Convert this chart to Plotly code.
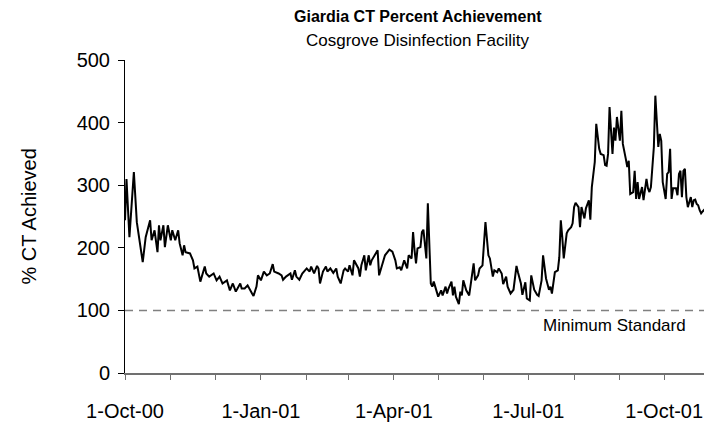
import pandas as pd
import plotly.graph_objects as go

start_date = "2000-10-01"
day_offsets = [
    0, 1, 3, 6, 8, 9, 12, 14, 17, 18, 20, 22, 23, 24, 26, 27, 29, 31, 32, 34,
    36, 37, 39, 40, 41, 44, 46, 47, 49, 51, 54, 55, 57, 60, 62, 64, 66, 69, 71, 73,
    75, 78, 79, 81, 83, 86, 87, 89, 90, 92, 94, 96, 98, 100, 101, 104, 106, 107, 109, 112,
    113, 115, 116, 118, 120, 123, 125, 126, 128, 130, 131, 132, 134, 136, 137, 139, 141, 143, 144, 146,
    148, 149, 151, 152, 154, 155, 156, 158, 159, 160, 162, 163, 165, 166, 167, 169, 171, 172, 174, 176,
    177, 179, 181, 183, 184, 186, 187, 189, 191, 192, 194, 195, 196, 197, 198, 200, 201, 202, 204, 205,
    207, 208, 209, 211, 212, 214, 215, 217, 218, 219, 221, 222, 223, 224, 226, 227, 228, 229, 231, 233,
    235, 236, 237, 239, 240, 242, 244, 246, 247, 249, 250, 252, 253, 255, 256, 258, 259, 261, 263, 265,
    266, 268, 269, 271, 272, 274, 275, 277, 279, 280, 282, 283, 285, 287, 288, 289, 291, 293, 294, 295,
    296, 297, 299, 300, 302, 303, 304, 305, 307, 308, 309, 311, 312, 314, 315, 316, 318, 319, 321, 322,
    324, 325, 326, 327, 328, 330, 331, 332, 333, 335, 336, 337, 339, 340, 341, 342, 344, 345, 346, 347,
    348, 350, 351, 352, 353, 354, 355, 356, 357, 358, 359, 361, 362, 363, 364, 366, 367, 368, 369, 370,
    371, 373, 374, 375, 376, 377, 378, 379, 380, 381, 383, 384, 385, 386, 387, 388, 389, 390, 391, 392,
    393,
]
ct_percent = [
    244, 310, 217, 321, 241, 223, 177, 217, 244, 212, 228, 193, 236, 212, 236, 201, 236, 212, 228, 212,
    228, 207, 188, 204, 193, 191, 180, 167, 170, 146, 170, 159, 154, 159, 148, 154, 143, 148, 132, 143,
    130, 143, 135, 135, 140, 127, 123, 138, 156, 148, 162, 156, 159, 174, 162, 159, 156, 149, 154, 159,
    149, 164, 154, 149, 159, 167, 162, 170, 159, 171, 167, 143, 162, 170, 162, 167, 160, 167, 154, 143,
    164, 167, 162, 172, 156, 180, 175, 167, 154, 172, 188, 164, 188, 172, 180, 188, 196, 156, 172, 188,
    191, 197, 194, 180, 167, 169, 164, 180, 167, 188, 183, 225, 196, 175, 199, 201, 225, 229, 183, 271,
    143, 138, 146, 127, 122, 132, 124, 138, 127, 135, 146, 124, 138, 122, 110, 130, 124, 148, 132, 124,
    156, 175, 148, 156, 167, 172, 241, 188, 183, 154, 164, 161, 167, 159, 142, 154, 138, 127, 133, 171,
    161, 143, 125, 145, 119, 116, 156, 133, 125, 123, 148, 188, 151, 133, 138, 127, 161, 164, 185, 244,
    217, 183, 223, 228, 233, 239, 265, 272, 265, 233, 265, 247, 263, 276, 245, 297, 337, 398, 358, 350,
    348, 332, 331, 350, 425, 350, 392, 371, 409, 371, 419, 366, 342, 329, 339, 286, 289, 323, 278, 305,
    278, 297, 276, 295, 310, 295, 289, 297, 329, 361, 443, 361, 382, 371, 305, 278, 318, 321, 358, 278,
    295, 295, 284, 318, 323, 281, 323, 326, 281, 265, 281, 265, 276, 277, 270, 268, 260, 255, 258, 260,
    263,
]

min_standard = 100
month_ticks = pd.date_range("2000-10-01", "2001-11-01", freq="MS")
quarter_labels = {"2000-10-01": "1-Oct-00", "2001-01-01": "1-Jan-01", "2001-04-01": "1-Apr-01",
                  "2001-07-01": "1-Jul-01", "2001-10-01": "1-Oct-01"}
y_ticks = [0, 100, 200, 300, 400, 500]

dates = pd.to_datetime(start_date) + pd.to_timedelta(day_offsets, unit="D")
tick_text = [quarter_labels.get(d.strftime("%Y-%m-%d"), "") for d in month_ticks]

FONT = "Liberation Sans, Arial, sans-serif"

fig = go.Figure()
fig.add_trace(go.Scatter(x=dates, y=ct_percent, mode="lines",
                         line=dict(color="black", width=2), showlegend=False,
                         hoverinfo="skip"))
fig.add_shape(type="line", xref="paper", x0=0, x1=1, yref="y", y0=min_standard, y1=min_standard,
              line=dict(color="#808080", width=1.5, dash="8px,6px"))
fig.add_annotation(text="Minimum Standard", xref="paper", x=0.962, xanchor="right",
                   yref="y", y=min_standard, yanchor="top", yshift=-4, showarrow=False,
                   font=dict(family=FONT, size=17, color="black"))
fig.add_annotation(text="<b>Giardia CT Percent Achievement</b>", xref="paper", x=0.5,
                   yref="paper", y=1, yanchor="middle", yshift=44, showarrow=False,
                   font=dict(family=FONT, size=16, color="black"))
fig.add_annotation(text="Cosgrove Disinfection Facility", xref="paper", x=0.5,
                   yref="paper", y=1, yanchor="middle", yshift=20, showarrow=False,
                   font=dict(family=FONT, size=17, color="black"))
fig.add_annotation(text="% CT Achieved", textangle=-90, xref="paper", x=0, xshift=-97,
                   xanchor="center", yref="paper", y=0.5, yanchor="middle", showarrow=False,
                   font=dict(family=FONT, size=20, color="black"))

# The page body adds an 8px margin, so the figure is 8px smaller on each axis.
fig.update_layout(
    width=704, height=418,
    margin=dict(l=117, r=2, t=52, b=53, autoexpand=False),
    paper_bgcolor="white", plot_bgcolor="white",
    font=dict(family=FONT, color="black"),
    xaxis=dict(range=["2000-10-01", "2001-11-01"], tickmode="array",
               tickvals=list(month_ticks), ticktext=tick_text,
               ticks="outside", ticklen=5, tickcolor="#707070", showgrid=False,
               showline=True, linecolor="#707070", linewidth=1.5, zeroline=False,
               tickfont=dict(family=FONT, size=20), ticklabelstandoff=14),
    yaxis=dict(range=[0, 500], tickmode="array", tickvals=y_ticks,
               ticks="outside", ticklen=6, tickcolor="black", showgrid=False,
               showline=True, linecolor="black", linewidth=1, zeroline=False,
               tickfont=dict(family=FONT, size=20), ticklabelstandoff=4),
)

fig.write_html("out.html")
